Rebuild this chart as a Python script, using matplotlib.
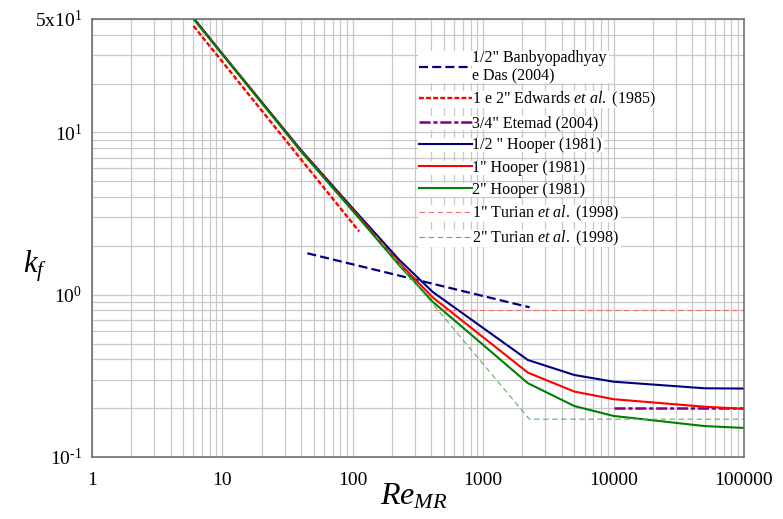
import matplotlib
matplotlib.use("Agg")
import matplotlib.pyplot as plt
from matplotlib.ticker import FixedLocator, FixedFormatter, NullFormatter
from matplotlib.patches import Rectangle
from matplotlib.transforms import IdentityTransform

plt.rcParams["font.family"] = ["Liberation Serif", "DejaVu Serif"]
plt.rcParams["mathtext.fontset"] = "custom"
plt.rcParams["mathtext.rm"] = "Liberation Serif"
plt.rcParams["mathtext.it"] = "Liberation Serif:italic"
plt.rcParams["mathtext.bf"] = "Liberation Serif:bold"
plt.rcParams["lines.scale_dashes"] = False

# Hooper (1981) two-K curves
re_hooper = [6.1, 10, 40, 100, 227, 410, 2200, 5000, 10000, 50000, 100000]
k_hooper_half = [50, 30.5, 7.8, 3.4, 1.64, 1.04, 0.396, 0.32, 0.291, 0.265, 0.264]
k_hooper_1 = [49.5, 30.3, 7.7, 3.33, 1.57, 0.963, 0.331, 0.253, 0.227, 0.204, 0.198]
k_hooper_2 = [49.3, 30.2, 7.65, 3.28, 1.52, 0.905, 0.285, 0.206, 0.179, 0.155, 0.151]

# Banbyopadhyay e Das (2004), 1/2"
re_banby = [44.8, 2270]
k_banby = [1.80, 0.836]

# Edwards et al. (1985), 1 e 2"
re_edwards = [6.0, 112]
k_edwards = [45.3, 2.45]

# Etemad (2004), 3/4"
re_etemad = [10000, 100000]
k_etemad = [0.2, 0.2]

# Turian et al. (1998)
re_turian_1 = [420, 100000]
k_turian_1 = [0.8, 0.8]
re_turian_2 = [150, 2260, 100000]
k_turian_2 = [2.3, 0.171, 0.171]

x_ticks = [1, 10, 100, 1000, 10000, 100000]
x_tick_labels = ["1", "10", "100", "1000", "10000", "100000"]
y_ticks = [0.1, 1, 10, 50]
y_tick_labels = ["$10^{\u20101}$", r"$10^{0}$", r"$10^{1}$", r"$5\mathrm{x}10^{1}$"]

fig = plt.figure(figsize=(7.83, 5.19), dpi=100)
ax = fig.add_axes([0.1175, 0.1195, 0.8327, 0.8439])

ax.plot(re_banby, k_banby, color="#000080", lw=1.6, dashes=(6.5, 3),
        label='1/2" Banbyopadhyay\ne Das (2004)')
ax.plot(re_edwards, k_edwards, color="#ff0000", lw=1.7, dashes=(3.5, 1.6),
        label=r'1 e 2" Edwards $et\ al.$ (1985)')
ax.plot(re_etemad, k_etemad, color="#800080", lw=1.8, dashes=(8, 2, 3, 2),
        label='3/4" Etemad (2004)')
ax.plot(re_hooper, k_hooper_half, color="#000080", lw=1.5,
        label='1/2 " Hooper (1981)')
ax.plot(re_hooper, k_hooper_1, color="#ff0000", lw=1.5,
        label='1" Hooper (1981)')
ax.plot(re_hooper, k_hooper_2, color="#008000", lw=1.5,
        label='2" Hooper (1981)')
ax.plot(re_turian_1, k_turian_1, color="#f07070", lw=0.8, dashes=(4, 2.5),
        label=r'1" Turian $et\ al.$ (1998)')
ax.plot(re_turian_2, k_turian_2, color="#60b060", lw=0.8, dashes=(4, 2.5),
        label=r'2" Turian $et\ al.$ (1998)')

ax.set_xscale("log")
ax.set_yscale("log")
ax.set_xlim(1, 100000)
ax.set_ylim(0.1, 50)

ax.xaxis.set_major_locator(FixedLocator(x_ticks))
ax.xaxis.set_major_formatter(FixedFormatter(x_tick_labels))
x_minor = [m * 10 ** e for e in range(0, 5) for m in range(2, 10)]
ax.xaxis.set_minor_locator(FixedLocator(x_minor))
ax.xaxis.set_minor_formatter(NullFormatter())

ax.yaxis.set_major_locator(FixedLocator(y_ticks))
ax.yaxis.set_major_formatter(FixedFormatter(y_tick_labels))
y_minor = [m * 10 ** e for e in range(-1, 1) for m in range(2, 10)] + [20, 30, 40]
ax.yaxis.set_minor_locator(FixedLocator(y_minor))
ax.yaxis.set_minor_formatter(NullFormatter())

ax.grid(which="both", color="#c8c8c8", lw=0.9)
ax.set_axisbelow(True)
ax.tick_params(which="both", length=0)
ax.tick_params(axis="x", labelsize=14, pad=11)
ax.tick_params(axis="y", labelsize=14, pad=7)

for s in ax.spines.values():
    s.set_color("#666666")
    s.set_linewidth(1.1)

ax.set_xlabel(r"$Re_{MR}$", fontsize=23, ha="center", va="center")
ax.xaxis.set_label_coords(0.494, -0.091)
ax.set_ylabel(r"$k_f$", fontsize=22, rotation=0, ha="center", va="center")
ax.yaxis.set_label_coords(-0.088, 0.435)

leg = ax.legend(loc="upper left", bbox_to_anchor=(0.502, 0.93), frameon=False,
                fontsize=11.5, handlelength=3.3, handletextpad=0.0,
                labelspacing=0.38, borderpad=0, borderaxespad=0)
leg.set_zorder(6)

# white backing behind each legend row
fig.canvas.draw()
renderer = fig.canvas.get_renderer()
for h, t in zip(leg.legend_handles, leg.get_texts()):
    hb = h.get_window_extent(renderer)
    tb = t.get_window_extent(renderer)
    x0 = hb.x0 - 1
    x1 = tb.x1 + 2
    y0 = tb.y0 + 1
    y1 = tb.y1 - 1
    ax.add_patch(Rectangle((x0, y0), x1 - x0, y1 - y0, transform=IdentityTransform(),
                           facecolor="white", edgecolor="none", zorder=5, clip_on=False))

fig.savefig("out.png", dpi=100)
